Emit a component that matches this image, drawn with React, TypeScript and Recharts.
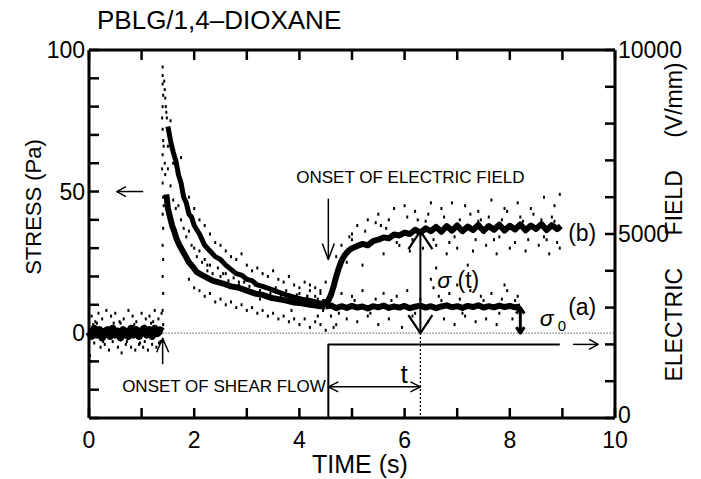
import { ComposedChart, Line, Scatter, XAxis, YAxis, ReferenceLine, ReferenceDot, ReferenceArea } from 'recharts';

const FONT = '"Liberation Sans", Arial, Helvetica, sans-serif';

const TIME_TICKS = [0, 1, 2, 3, 4, 5, 6, 7, 8, 9, 10];
const TIME_LABELS = [0, 2, 4, 6, 8, 10];
const STRESS_TICKS = [-30, -20, -10, 0, 10, 20, 30, 40, 50, 60, 70, 80, 90, 100];
const STRESS_LABELS = [0, 50, 100];
const FIELD_TICKS = [0, 1000, 2000, 3000, 4000, 5000, 6000, 7000, 8000, 9000, 10000];
const FIELD_LABELS = [0, 5000, 10000];

// [time (s), stress (Pa)]
const baselineBand: [number, number][] = [
  [0, 0.5], [0.05, -1], [0.1, 1.5], [0.15, -0.5], [0.2, 1], [0.25, -1.5], [0.3, 0.5], [0.35, 1],
  [0.4, -1], [0.45, 1.5], [0.5, -0.5], [0.55, 0.5], [0.6, -1.5], [0.65, 1], [0.7, 0], [0.75, -1],
  [0.8, 1.5], [0.85, -0.5], [0.9, 1], [0.95, -1], [1.0, 0.5], [1.05, 1.5], [1.1, -0.5], [1.15, 1],
  [1.2, -1], [1.25, 1.5], [1.3, 0], [1.35, 1], [1.4, 0.5],
];

const baselineNoise: [number, number][] = [
  [0.02, -8], [0.03, -10], [0.05, 6], [0.1, -3.5], [0.12, 4], [0.18, 7], [0.22, -5], [0.25, 5],
  [0.3, -4], [0.33, 8], [0.38, -6], [0.42, 6], [0.45, -3], [0.5, 7], [0.55, -5], [0.58, 4],
  [0.62, -7], [0.66, 5], [0.7, -4], [0.75, 8], [0.8, -5], [0.83, 6], [0.88, -6], [0.9, 4],
  [0.95, -4], [1.0, 7], [1.03, -5], [1.08, 5], [1.12, -6], [1.15, 6], [1.2, -4], [1.25, 8],
  [1.28, -5], [1.32, 5], [1.36, -3], [1.38, 7], [0.15, 3.5], [0.6, 3.5], [0.97, -3.5], [1.18, 3.5],
  [0.08, 3], [0.27, -3], [0.47, 3.5], [0.72, -3], [0.86, 3], [1.06, -3], [1.22, 4], [1.33, -3.5],
];

const spike: [number, number][] = [
  [1.4, -3], [1.41, 3], [1.4, 8], [1.41, 14], [1.4, 20], [1.41, 26], [1.4, 31], [1.41, 37],
  [1.4, 42], [1.41, 48], [1.4, 53], [1.39, 58], [1.4, 63], [1.41, 68], [1.4, 72], [1.39, 76],
  [1.4, 80], [1.41, 84], [1.4, 88], [1.4, 91], [1.4, 94], [1.42, 45], [1.42, 66],
  [1.43, 89], [1.44, 86], [1.45, 83], [1.46, 80], [1.47, 78], [1.48, 76], [1.44, 60], [1.45, 56],
];

const decayUpper: [number, number][] = [
  [1.5, 73], [1.53, 70], [1.56, 67], [1.6, 64], [1.65, 61], [1.7, 56],
  [1.75, 53], [1.8, 48], [1.85, 46], [1.9, 42], [1.95, 41], [2.0, 38], [2.1, 35], [2.2, 31],
  [2.3, 29], [2.4, 27], [2.5, 26], [2.6, 24], [2.7, 22.5], [2.8, 21], [2.9, 20.5], [3.0, 19],
  [3.1, 18.5], [3.2, 17], [3.3, 16.5], [3.45, 15.5], [3.6, 14.5], [3.75, 13.5], [3.9, 12.7],
  [4.05, 12], [4.2, 11.5], [4.35, 10.8], [4.5, 10.2],
];

const decayLower: [number, number][] = [
  [1.47, 49], [1.5, 44], [1.54, 41], [1.58, 38], [1.62, 36], [1.66, 33.5],
  [1.72, 31], [1.78, 29], [1.84, 27], [1.9, 25], [1.97, 23.5], [2.05, 21.5], [2.15, 20.5],
  [2.25, 19.5], [2.35, 18.5], [2.45, 18], [2.55, 17.5], [2.7, 16.5], [2.85, 16], [3.0, 15],
  [3.15, 14], [3.3, 13.5], [3.45, 12.5], [3.6, 12], [3.75, 11.5], [3.9, 10.8], [4.05, 10.5],
  [4.2, 10], [4.35, 9.6], [4.5, 9.4],
];

const decayNoise: [number, number][] = [
  [1.6, 60], [1.75, 62], [1.9, 48], [2.0, 44], [2.1, 40], [2.2, 38], [2.3, 35], [2.4, 32],
  [2.5, 31], [2.6, 29], [2.7, 27], [2.8, 26], [2.9, 28], [3.0, 24], [3.1, 22], [3.2, 23],
  [3.3, 21], [3.4, 20], [3.5, 22], [3.6, 19], [3.7, 18], [3.8, 20], [3.9, 17], [4.0, 16],
  [4.1, 18], [4.2, 15], [4.3, 16], [4.4, 14], [1.9, 19], [2.0, 16], [2.1, 15], [2.2, 13],
  [2.3, 14], [2.4, 11], [2.5, 12], [2.6, 10], [2.7, 11], [2.8, 9], [2.9, 10], [3.0, 8],
  [3.1, 9], [3.2, 7], [3.3, 8], [3.4, 6], [3.5, 7], [3.6, 5], [3.7, 6], [3.8, 4], [3.9, 5],
  [4.0, 3], [4.1, 5], [4.2, 2], [4.3, 4], [4.4, 3], [4.5, 1], [4.35, 6], [4.45, 8],
  [2.25, 24], [2.55, 21], [2.85, 18], [3.25, 12], [3.55, 16], [3.85, 8], [4.15, 13],
  [1.5, 58], [1.55, 52], [1.6, 47], [1.65, 44], [1.7, 45], [1.75, 40], [1.8, 37], [1.85, 34],
  [1.9, 36], [1.95, 31], [2.0, 30], [2.05, 27], [2.1, 29], [2.15, 25], [2.2, 26], [2.25, 22],
  [2.3, 24], [2.35, 21], [2.45, 23], [2.5, 20], [2.6, 21], [2.65, 18.5], [2.75, 19.5],
  [2.85, 17], [2.95, 18], [3.05, 16.5], [3.15, 17], [3.25, 15], [3.35, 16], [3.45, 14],
  [3.55, 14.5], [3.65, 13], [3.75, 15], [3.85, 12], [3.95, 13.5], [4.05, 11], [4.15, 13],
  [4.25, 10.5], [4.35, 12], [4.45, 11.5], [1.55, 75], [1.5, 66],
];

// (a): no field
const curveA: [number, number][] = [
  [4.5, 9.4], [4.6, 9.8], [4.7, 8.8], [4.8, 9.5], [4.9, 8.9], [5.0, 9.6], [5.1, 9], [5.2, 9.4],
  [5.3, 8.7], [5.4, 9.5], [5.5, 9.1], [5.6, 9.7], [5.7, 8.9], [5.8, 9.4], [5.9, 9], [6.0, 9.6],
  [6.1, 8.8], [6.2, 9.3], [6.3, 9.7], [6.4, 9], [6.5, 9.5], [6.6, 8.8], [6.7, 9.4], [6.8, 9.8],
  [6.9, 9.1], [7.0, 9.5], [7.1, 8.9], [7.2, 9.6], [7.3, 9.2], [7.4, 9.8], [7.5, 9], [7.6, 9.5],
  [7.7, 9.1], [7.8, 9.7], [7.9, 9.2], [8.0, 9.6], [8.1, 9.1], [8.2, 9.4],
];

const aNoise: [number, number][] = [
  [4.7, 3], [4.8, 14], [4.9, 5], [5.0, 13], [5.1, 4], [5.2, 15], [5.3, 6], [5.45, 12], [5.5, 3],
  [5.6, 14], [5.7, 5], [5.85, 13], [5.95, 2], [6.05, 15], [6.15, 6], [6.3, 12], [6.45, 4],
  [6.55, 16], [6.65, 13], [6.75, 5], [6.85, 14], [6.95, 3], [7.05, 12], [7.15, 6], [7.25, 15],
  [7.35, 4], [7.45, 13], [7.55, 5], [7.65, 14], [7.75, 3], [7.85, 12], [7.95, 15], [8.05, 5],
  [8.15, 13], [7.0, 17], [6.5, 19], [7.9, 17], [4.0, 14], [4.2, 17], [4.3, 13], [4.4, 15],
  [4.5, 18], [4.6, 6], [4.65, 2], [4.75, 7], [5.05, 11.5], [5.35, 7], [5.75, 11.5], [6.2, 7],
  [6.7, 11.5], [7.1, 7], [7.5, 11.5], [7.8, 7], [8.1, 11.5],
];

// (b): field switched on at 4.55 s
const curveB: [number, number][] = [
  [4.45, 10.5], [4.55, 11.5], [4.6, 13.5], [4.65, 16.5], [4.7, 20], [4.75, 23], [4.8, 25.5],
  [4.86, 27.5], [4.93, 29], [5.0, 30], [5.1, 30.8], [5.2, 31.5], [5.3, 31], [5.4, 32.5],
  [5.5, 33], [5.6, 33.8], [5.7, 33.5], [5.8, 34.8], [5.9, 34.5], [6.0, 35.5], [6.1, 35],
  [6.2, 36.5], [6.3, 35.5], [6.4, 37], [6.5, 36], [6.6, 37.5], [6.7, 35.8], [6.8, 37.8],
  [6.9, 36.2], [7.0, 38], [7.1, 36], [7.2, 37.6], [7.3, 36.4], [7.4, 38.2], [7.5, 36.1],
  [7.6, 37.8], [7.7, 36.5], [7.8, 38.3], [7.9, 36.2], [8.0, 37.9], [8.1, 36.6], [8.2, 38.4],
  [8.3, 36.3], [8.4, 38], [8.5, 36.8], [8.6, 38.5], [8.7, 36.4], [8.8, 38.1], [8.9, 36.7],
  [8.97, 37.8],
];

const bNoise: [number, number][] = [
  [4.7, 27], [4.8, 31], [4.9, 25], [5.0, 35], [5.1, 38], [5.0, 33], [5.3, 40], [5.5, 42],
  [5.6, 28], [5.8, 44], [5.9, 31], [6.0, 45], [6.1, 29], [6.2, 43], [6.35, 30], [6.5, 46],
  [6.6, 31], [6.7, 44], [6.8, 28], [6.9, 46], [7.0, 30], [7.15, 45], [7.3, 29], [7.4, 43],
  [7.55, 31], [7.65, 47], [7.75, 28], [7.9, 44], [8.0, 30], [8.15, 46], [8.3, 29], [8.4, 44],
  [8.55, 31], [8.65, 48], [8.75, 28], [8.85, 45], [8.95, 49], [8.95, 30], [5.2, 24], [6.6, 23],
  [7.2, 24], [5.45, 39], [5.55, 38], [5.7, 40], [5.85, 32], [6.05, 41], [6.15, 33], [6.25, 40],
  [6.45, 42], [6.55, 33], [6.75, 41], [6.85, 32], [7.05, 40], [7.25, 42], [7.35, 33],
  [7.45, 40], [7.6, 41], [7.7, 33], [7.85, 40], [7.95, 43], [8.1, 32], [8.2, 41], [8.35, 33],
  [8.45, 42], [8.6, 40], [8.7, 33], [8.8, 41], [8.9, 32], [5.25, 36], [5.65, 37], [6.4, 39.5],
  [6.95, 34], [7.4, 39.5], [7.8, 34], [8.25, 39.5], [8.65, 34], [8.85, 39.5], [4.95, 34],
];

// [time (s), field (V/mm)]
const fieldStep: [number, number][] = [[4.55, 0], [4.55, 2000], [8.95, 2000]];
const fieldPointer: [number, number][] = [[9.2, 2000], [9.68, 2000]];

// annotation arrows, [time, stress]
const shearArrow: [number, number][] = [[1.4, -11], [1.4, -1.8]];
const fieldArrow: [number, number][] = [[4.55, 47.5], [4.55, 26]];
const stressPointer: [number, number][] = [[1.03, 50], [0.53, 50]];
const sigmaTArrow: [number, number][] = [[6.3, 0], [6.3, 36]];
const sigma0Arrow: [number, number][] = [[8.2, 0], [8.2, 9]];
const tSpanArrow: [number, number][] = [[4.55, -19], [6.3, -19]];

// arrow tips: [time, value, direction, length px, half-width px]
type Dir = 'up' | 'down' | 'left' | 'right';
type Tip = [number, number, Dir, number, number];
const thinTips: Tip[] = [
  [1.4, -1.8, 'up', 14, 6],
  [4.55, 26, 'down', 16, 6],
  [0.53, 50, 'left', 9, 5],
  [4.55, -19, 'left', 10, 5],
  [6.3, -19, 'right', 10, 5],
];
const sigmaTips: Tip[] = [[6.3, 36, 'up', 18, 12], [6.3, 0, 'down', 18, 12]];
const sigma0Tips: Tip[] = [[8.2, 9, 'up', 6, 4], [8.2, 0, 'down', 6, 4]];
const fieldTips: Tip[] = [[9.68, 2000, 'right', 9, 5]];

type Pt = { t: number; v: number | null };

// pixel -> data unit conversions of the plot box (526 x 368 px)
const T_PX = 10 / 526;
const S_PX = 130 / 368;
const E_PX = 10000 / 368;
const TICK_PX = 10;
const TICK_W = 2.5;

const ts = (a: [number, number][]) => a.map(([t, v]) => ({ t, v }));

// several short strokes in one series, split by null gaps
function strokes(parts: [number, number][][]): Pt[] {
  return parts.flatMap((p) => [...p.map(([t, v]) => ({ t, v })), { t: p[p.length - 1][0], v: null }]);
}

function tipPoints([t, v, dir, len, half]: Tip, vPx: number): [number, number][] {
  if (dir === 'up') return [[t - half * T_PX, v - len * vPx], [t, v], [t + half * T_PX, v - len * vPx]];
  if (dir === 'down') return [[t - half * T_PX, v + len * vPx], [t, v], [t + half * T_PX, v + len * vPx]];
  if (dir === 'left') return [[t + len * T_PX, v + half * vPx], [t, v], [t + len * T_PX, v - half * vPx]];
  return [[t - len * T_PX, v + half * vPx], [t, v], [t - len * T_PX, v - half * vPx]];
}

const Speck = (p: any) => <rect x={p.cx - 1} y={p.cy - 1.5} width={2} height={3} fill="#000" />;

function BottomTick({ x, y, payload }: any) {
  const v = payload.value;
  if (!TIME_LABELS.includes(v)) return <g />;
  return <text x={x} y={y + 30} textAnchor="middle" fontSize={23} fontFamily={FONT} fill="#000">{v}</text>;
}

function LeftTick({ x, y, payload }: any) {
  const v = payload.value;
  if (!STRESS_LABELS.includes(v)) return <g />;
  return <text x={x - 4} y={y + 8} textAnchor="end" fontSize={23} fontFamily={FONT} fill="#000">{v}</text>;
}

function RightTick({ x, y, payload }: any) {
  const v = payload.value;
  if (!FIELD_LABELS.includes(v)) return <g />;
  return <text x={x + 3} y={y + (v === 0 ? 5 : 8)} textAnchor="start" fontSize={23} fontFamily={FONT} fill="#000">{v}</text>;
}

function Note({ t, s, children, size = 17, anchor = 'start' }: any) {
  return (
    <ReferenceDot
      x={t}
      y={s}
      r={0}
      ifOverflow="visible"
      shape={(p: any) => (
        <text x={p.cx} y={p.cy} dominantBaseline="central" textAnchor={anchor} fontSize={size} fontFamily={FONT} fill="#000">
          {children}
        </text>
      )}
    />
  );
}

const AXIS_LINE = { stroke: '#000', strokeWidth: 3 };
const BLOCK = { fill: '#000', fillOpacity: 1, stroke: 'none', ifOverflow: 'visible' as const };

export default function App() {
  const lp = { stroke: '#000', dot: false, isAnimationActive: false, strokeLinejoin: 'round' as const, dataKey: 'v' };
  const sc = { isAnimationActive: false, dataKey: 'v' };
  const hw = (TICK_W / 2);
  return (
    <div style={{ position: 'absolute', left: 0, top: 0, width: 701, height: 479, background: '#fff' }}>
      <div style={{ position: 'absolute', left: 97, top: 5, fontFamily: FONT, fontSize: 26, lineHeight: '30px', color: '#000' }}>
        PBLG/1,4–DIOXANE
      </div>
      <ComposedChart width={701} height={479} margin={{ top: 50, right: 0, bottom: 0, left: 0 }}>
        <XAxis
          dataKey="t"
          type="number"
          domain={[0, 10]}
          ticks={TIME_TICKS}
          interval={0}
          height={61}
          tickSize={0}
          tickMargin={0}
          tickLine={false}
          axisLine={AXIS_LINE}
          tick={<BottomTick />}
          label={{
            content: () => (
              <text x={360} y={473} textAnchor="middle" fontSize={25} fontFamily={FONT} fill="#000">TIME (s)</text>
            ),
          }}
        />
        <YAxis
          type="number"
          domain={[-30, 100]}
          ticks={STRESS_TICKS}
          interval={0}
          width={89}
          tickSize={0}
          tickMargin={0}
          tickLine={false}
          axisLine={AXIS_LINE}
          tick={<LeftTick />}
          label={{
            content: () => (
              <text x={33} y={207} transform="rotate(-90 33 207)" textAnchor="middle" dominantBaseline="central" fontSize={22} fontFamily={FONT} fill="#000">
                STRESS (Pa)
              </text>
            ),
          }}
        />
        <YAxis
          yAxisId="R"
          orientation="right"
          type="number"
          domain={[0, 10000]}
          ticks={FIELD_TICKS}
          interval={0}
          width={86}
          tickSize={0}
          tickMargin={0}
          tickLine={false}
          axisLine={AXIS_LINE}
          tick={<RightTick />}
          label={{
            content: () => (
              <text x={674} y={222} transform="rotate(-90 674 222)" textAnchor="middle" dominantBaseline="central" fontSize={23} wordSpacing={26} fontFamily={FONT} fill="#000">
                ELECTRIC FIELD (V/mm)
              </text>
            ),
          }}
        />

        {/* frame top edge and inward tick marks as thin filled blocks */}
        <ReferenceArea x1={0} x2={10} y1={100 - 1.5 * S_PX} y2={100 + 1.5 * S_PX} {...BLOCK} />
        {TIME_TICKS.map((t) => (
          <ReferenceArea key={`b${t}`} x1={t - hw * T_PX} x2={t + hw * T_PX} y1={-30} y2={-30 + TICK_PX * S_PX} {...BLOCK} />
        ))}
        {TIME_TICKS.map((t) => (
          <ReferenceArea key={`t${t}`} x1={t - hw * T_PX} x2={t + hw * T_PX} y1={100 - TICK_PX * S_PX} y2={100} {...BLOCK} />
        ))}
        {STRESS_TICKS.map((s) => (
          <ReferenceArea key={`l${s}`} x1={0} x2={TICK_PX * T_PX} y1={s - hw * S_PX} y2={s + hw * S_PX} {...BLOCK} />
        ))}
        {FIELD_TICKS.map((e) => (
          <ReferenceArea key={`r${e}`} yAxisId="R" x1={10 - TICK_PX * T_PX} x2={10} y1={e - hw * E_PX} y2={e + hw * E_PX} {...BLOCK} />
        ))}

        <ReferenceLine segment={[{ x: 1.4, y: 0 }, { x: 10, y: 0 }]} stroke="#000" strokeWidth={1} strokeDasharray="1 2" />
        <ReferenceLine segment={[{ x: 6.3, y: 0 }, { x: 6.3, y: -30 }]} stroke="#000" strokeWidth={1.2} strokeDasharray="2 2" />

        <Line data={ts(baselineBand)} strokeWidth={8} {...lp} />
        <Line data={ts(decayUpper)} strokeWidth={5} {...lp} />
        <Line data={ts(decayLower)} strokeWidth={6} {...lp} />
        <Line data={ts(curveA)} strokeWidth={6} {...lp} />
        <Line data={ts(curveB)} strokeWidth={6} {...lp} />
        <Scatter data={ts(baselineNoise)} shape={Speck} {...sc} />
        <Scatter data={ts(spike)} shape={Speck} {...sc} />
        <Scatter data={ts(decayNoise)} shape={Speck} {...sc} />
        <Scatter data={ts(aNoise)} shape={Speck} {...sc} />
        <Scatter data={ts(bNoise)} shape={Speck} {...sc} />

        <Line data={ts(fieldStep)} yAxisId="R" strokeWidth={2} {...lp} />
        <Line data={ts(fieldPointer)} yAxisId="R" strokeWidth={1.5} {...lp} />

        <Line data={ts(shearArrow)} strokeWidth={1.5} {...lp} />
        <Line data={ts(fieldArrow)} strokeWidth={1.5} {...lp} />
        <Line data={ts(stressPointer)} strokeWidth={1.5} {...lp} />
        <Line data={ts(sigmaTArrow)} strokeWidth={2} {...lp} />
        <Line data={ts(sigma0Arrow)} strokeWidth={3} {...lp} />
        <Line data={ts(tSpanArrow)} strokeWidth={1.5} {...lp} />

        <Line data={strokes(thinTips.map((tip) => tipPoints(tip, S_PX)))} strokeWidth={1.5} {...lp} />
        <Line data={strokes(sigmaTips.map((tip) => tipPoints(tip, S_PX)))} strokeWidth={2.2} {...lp} />
        <Line data={strokes(sigma0Tips.map((tip) => tipPoints(tip, S_PX)))} strokeWidth={3} {...lp} />
        <Line data={strokes(fieldTips.map((tip) => tipPoints(tip, E_PX)))} yAxisId="R" strokeWidth={1.5} {...lp} />

        <Note t={3.94} s={55}>ONSET OF ELECTRIC FIELD</Note>
        <Note t={0.63} s={-18.7}>ONSET OF SHEAR FLOW</Note>
        <Note t={9.11} s={35.3} size={23}>(b)</Note>
        <Note t={9.11} s={9.2} size={23}>(a)</Note>
        <Note t={8.57} s={5.3} size={23}>
          <tspan fontStyle="italic">σ</tspan>
          <tspan fontSize={15} dx={4} dy={7}>0</tspan>
        </Note>
        <Note t={6.62} s={18.7} size={23}>
          <tspan fontStyle="italic">σ</tspan> (t)
        </Note>
        <Note t={5.99} s={-14.5} size={26} anchor="middle">t</Note>
      </ComposedChart>
    </div>
  );
}
